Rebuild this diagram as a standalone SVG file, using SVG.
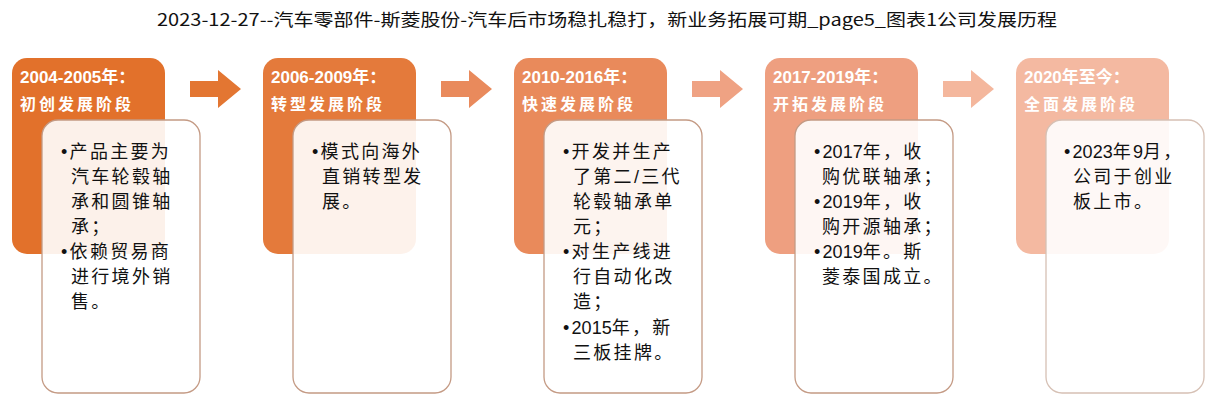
<svg xmlns="http://www.w3.org/2000/svg" width="1215" height="403" viewBox="0 0 1215 403">
<style>
.title{font-family:"Noto Sans CJK SC","Liberation Sans",sans-serif;font-size:17px;fill:#111}
.hd{font-family:"Liberation Sans","Noto Sans CJK SC",sans-serif;font-size:17px;font-weight:bold;fill:#fff}
.hd2{font-size:16px;letter-spacing:3px}
.box{fill:#fff;fill-opacity:0.9;stroke:#C49A84;stroke-width:1.3}
.tx{font-family:"Liberation Sans","Noto Sans CJK SC",sans-serif;font-size:18px;fill:#111;letter-spacing:2.3px}
.n{letter-spacing:0}
</style>
<rect width="1215" height="403" fill="#fff"/>
<text class="title" x="607" y="26" text-anchor="middle" textLength="900" lengthAdjust="spacingAndGlyphs">2023-12-27--汽车零部件-斯菱股份-汽车后市场稳扎稳打，新业务拓展可期_page5_图表1公司发展历程</text>
<g id="connectors">
<path d="M190,81 H218 V70 L241,89 L218,108 V97 H190 Z" fill="#E37632"/>
<path d="M441,81 H469 V70 L492,89 L469,108 V97 H441 Z" fill="#E98A5C"/>
<path d="M692,81 H720 V70 L743,89 L720,108 V97 H692 Z" fill="#EFA283"/>
<path d="M943,81 H971 V70 L994,89 L971,108 V97 H943 Z" fill="#F4B79D"/>
</g>
<g id="stage1">
<rect x="12" y="58" width="153" height="196" rx="15" fill="#E2712B"/>
<text class="hd" x="20" y="83">2004-2005年：</text>
<text class="hd hd2" x="20" y="110">初创发展阶段</text>
<rect class="box" x="42" y="120" width="158" height="273" rx="16"/>
<text class="tx" x="61" y="158">•产品主要为</text>
<text class="tx" x="71" y="183">汽车轮毂轴</text>
<text class="tx" x="71" y="208">承和圆锥轴</text>
<text class="tx" x="71" y="233">承；</text>
<text class="tx" x="61" y="258">•依赖贸易商</text>
<text class="tx" x="71" y="283">进行境外销</text>
<text class="tx" x="71" y="308">售。</text>
</g>
<g id="stage2">
<rect x="263" y="58" width="153" height="196" rx="15" fill="#E47A3B"/>
<text class="hd" x="271" y="83">2006-2009年：</text>
<text class="hd hd2" x="271" y="110">转型发展阶段</text>
<rect class="box" x="293" y="120" width="158" height="273" rx="16"/>
<text class="tx" x="312" y="158">•模式向海外</text>
<text class="tx" x="322" y="183">直销转型发</text>
<text class="tx" x="322" y="208">展。</text>
</g>
<g id="stage3">
<rect x="514" y="58" width="153" height="196" rx="15" fill="#E98A5B"/>
<text class="hd" x="522" y="83">2010-2016年：</text>
<text class="hd hd2" x="522" y="110">快速发展阶段</text>
<rect class="box" x="544" y="120" width="158" height="273" rx="16"/>
<text class="tx" x="563" y="158">•开发并生产</text>
<text class="tx" x="573" y="183">了第二/三代</text>
<text class="tx" x="573" y="208">轮毂轴承单</text>
<text class="tx" x="573" y="233">元；</text>
<text class="tx" x="563" y="258">•对生产线进</text>
<text class="tx" x="573" y="283">行自动化改</text>
<text class="tx" x="573" y="308">造；</text>
<text class="tx" x="563" y="334">•<tspan class="n">2015</tspan>年，新</text>
<text class="tx" x="573" y="359">三板挂牌。</text>
</g>
<g id="stage4">
<rect x="765" y="58" width="153" height="196" rx="15" fill="#EE9F80"/>
<text class="hd" x="773" y="83">2017-2019年：</text>
<text class="hd hd2" x="773" y="110">开拓发展阶段</text>
<rect class="box" x="795" y="120" width="158" height="273" rx="16"/>
<text class="tx" x="814" y="158">•<tspan class="n">2017</tspan>年，收</text>
<text class="tx" x="822" y="183">购优联轴承；</text>
<text class="tx" x="814" y="208">•<tspan class="n">2019</tspan>年，收</text>
<text class="tx" x="822" y="233">购开源轴承；</text>
<text class="tx" x="814" y="258">•<tspan class="n">2019</tspan>年。斯</text>
<text class="tx" x="822" y="283">菱泰国成立。</text>
</g>
<g id="stage5">
<rect x="1016" y="58" width="153" height="196" rx="15" fill="#F4B9A1"/>
<text class="hd" x="1024" y="83">2020年至今：</text>
<text class="hd hd2" x="1024" y="110">全面发展阶段</text>
<rect class="box" x="1046" y="120" width="158" height="273" rx="16" style="stroke:#D6C0B4"/>
<text class="tx" x="1064" y="158">•<tspan class="n">2023</tspan>年<tspan class="n">9</tspan>月，</text>
<text class="tx" x="1073" y="183">公司于创业</text>
<text class="tx" x="1073" y="208">板上市。</text>
</g>
</svg>
